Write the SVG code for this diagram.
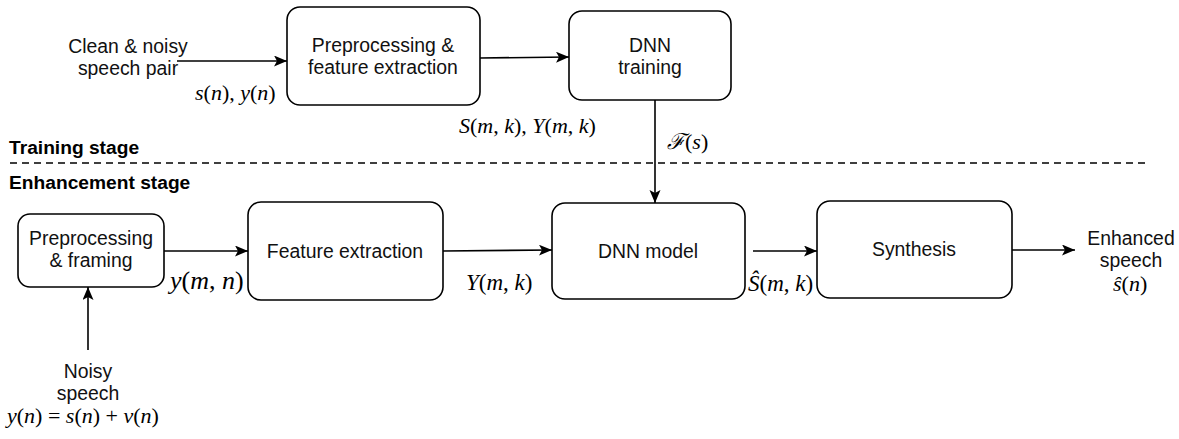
<svg xmlns="http://www.w3.org/2000/svg" width="1179" height="439" viewBox="0 0 1179 439">
<style>
.box{fill:#fff;stroke:#000;stroke-width:1.6}
.t{font-family:"Liberation Sans",Arial,sans-serif;font-size:19.4px;fill:#111;text-anchor:middle}
.b{font-family:"Liberation Sans",Arial,sans-serif;font-size:19.2px;font-weight:bold;fill:#000}
.m{font-family:"Liberation Serif","DejaVu Serif",serif;font-size:22px;fill:#000}
.i{font-style:italic}
.c{fill:none;stroke:#000;stroke-width:1.6}
</style>
<defs>
<marker id="ah" markerUnits="userSpaceOnUse" markerWidth="14" markerHeight="12" refX="13" refY="5.5" orient="auto">
<path d="M0,0 L13,5.5 L0,11 L3,5.5 Z" fill="#000"/>
</marker>
</defs>

<g id="connectors">
<line class="c" x1="177" y1="61" x2="287" y2="61" marker-end="url(#ah)"/>
<line class="c" x1="480" y1="58" x2="569" y2="57" marker-end="url(#ah)"/>
<line class="c" x1="655" y1="100" x2="655" y2="203" marker-end="url(#ah)"/>
<line class="c" x1="164" y1="251" x2="248" y2="251" marker-end="url(#ah)"/>
<line class="c" x1="443" y1="251" x2="552" y2="250" marker-end="url(#ah)"/>
<line class="c" x1="753" y1="251" x2="817" y2="251" marker-end="url(#ah)"/>
<line class="c" x1="1012" y1="250" x2="1075" y2="250" marker-end="url(#ah)"/>
<line class="c" x1="88" y1="350" x2="88" y2="287" marker-end="url(#ah)"/>
</g>

<g id="separator">
<line x1="10" y1="163" x2="1148" y2="163" stroke="#000" stroke-width="1.4" stroke-dasharray="7,5"/>
<text class="b" x="9" y="154">Training stage</text>
<text class="b" x="9" y="189">Enhancement stage</text>
</g>

<g id="clean-input">
<text class="t" x="128" y="53">Clean &amp; noisy</text>
<text class="t" x="128" y="75">speech pair</text>
<text class="m" x="195" y="100"><tspan class="i">s</tspan>(<tspan class="i">n</tspan>), <tspan class="i">y</tspan>(<tspan class="i">n</tspan>)</text>
</g>

<g id="preproc-feature">
<rect class="box" x="287" y="7" width="193" height="98" rx="13"/>
<text class="t" x="383" y="52">Preprocessing &amp;</text>
<text class="t" x="383" y="74">feature extraction</text>
<text class="m" x="459" y="133"><tspan class="i">S</tspan>(<tspan class="i">m</tspan>, <tspan class="i">k</tspan>), <tspan class="i">Y</tspan>(<tspan class="i">m</tspan>, <tspan class="i">k</tspan>)</text>
</g>

<g id="dnn-training">
<rect class="box" x="569" y="11" width="162" height="89" rx="13"/>
<text class="t" x="650" y="52">DNN</text>
<text class="t" x="650" y="74">training</text>
<text class="m" x="667" y="149"><tspan class="i">ℱ</tspan>(<tspan class="i">s</tspan>)</text>
</g>

<g id="preproc-framing">
<rect class="box" x="18" y="214" width="146" height="73" rx="12"/>
<text class="t" x="91" y="245">Preprocessing</text>
<text class="t" x="91" y="267">&amp; framing</text>
<text class="m" x="170" y="289" style="font-size:26px"><tspan class="i">y</tspan>(<tspan class="i">m</tspan>, <tspan class="i">n</tspan>)</text>
</g>

<g id="feature-extraction">
<rect class="box" x="248" y="202" width="195" height="98" rx="13"/>
<text class="t" x="345" y="258">Feature extraction</text>
<text class="m" x="466" y="290" style="font-size:23px"><tspan class="i">Y</tspan>(<tspan class="i">m</tspan>, <tspan class="i">k</tspan>)</text>
</g>

<g id="dnn-model">
<rect class="box" x="552" y="203" width="193" height="96" rx="13"/>
<text class="t" x="648" y="258">DNN model</text>
<text class="m" x="748" y="291" style="font-size:23px"><tspan class="i">Ŝ</tspan>(<tspan class="i">m</tspan>, <tspan class="i">k</tspan>)</text>
</g>

<g id="synthesis">
<rect class="box" x="817" y="201" width="195" height="97" rx="13"/>
<text class="t" x="914" y="256">Synthesis</text>
</g>

<g id="enhanced-output">
<text class="t" x="1131" y="245">Enhanced</text>
<text class="t" x="1131" y="267">speech</text>
<text class="m" x="1113" y="291"><tspan class="i">ŝ</tspan>(<tspan class="i">n</tspan>)</text>
</g>

<g id="noisy-input">
<text class="t" x="88" y="378">Noisy</text>
<text class="t" x="88" y="400">speech</text>
<text class="m" x="7" y="423"><tspan class="i">y</tspan>(<tspan class="i">n</tspan>) = <tspan class="i">s</tspan>(<tspan class="i">n</tspan>) + <tspan class="i">v</tspan>(<tspan class="i">n</tspan>)</text>
</g>
</svg>
